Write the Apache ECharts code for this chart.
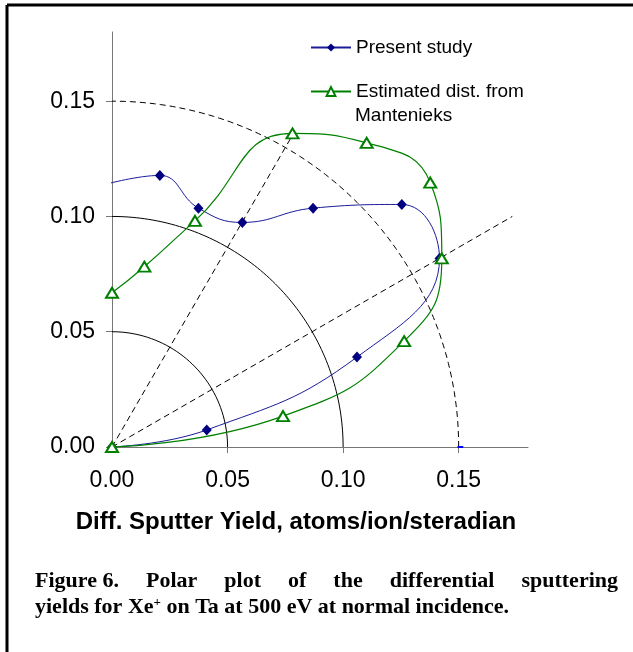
<!DOCTYPE html>
<html><head><meta charset="utf-8">
<script src="https://cdn.jsdelivr.net/npm/echarts@6/dist/echarts.min.js"></script>
<style>html,body{margin:0;padding:0;background:#fff}#c{width:633px;height:652px}</style>
</head><body><div id="c"></div>
<script>
// ---- data (atoms/ion/steradian) ----
const presentX = [-0.0022, 0.0207, 0.0374, 0.0564, 0.0870, 0.1254, 0.1417, 0.1060, 0.0410, 0.0];
const presentY = [0.1141, 0.1178, 0.1036, 0.0974, 0.1036, 0.1052, 0.0818, 0.0390, 0.0074, 0.0];
const mantX = [0.0, 0.0140, 0.0359, 0.0781, 0.1102, 0.1377, 0.1427, 0.1264, 0.0740, 0.0];
const mantY = [0.0669, 0.0782, 0.0981, 0.1360, 0.1319, 0.1147, 0.0818, 0.0459, 0.0134, 0.0];
const strayX = [0.1495, 0.1520];
const strayY = [0.0, 0.0];
// guide geometry
const solidArcRadii = [0.05, 0.10];
const dashedArcRadii = [0.15];
const rayAnglesDeg = [30, 60];
const rayLengths = [0.20, 0.157];
// axis ticks
const tickValues = [0, 0.05, 0.10, 0.15];
const axisMax = 0.18;
const seriesNames = ['Present study', 'Estimated dist. from Mantenieks'];

const zip = (xs, ys) => xs.map((x, i) => [x, ys[i]]);
function arcData(r) {
  const pts = [];
  for (let a = 0; a <= 90; a += 1) { const t = a * Math.PI / 180; pts.push([r * Math.cos(t), r * Math.sin(t)]); }
  return pts;
}
function rayData(deg, len) {
  const t = deg * Math.PI / 180;
  return [[0, 0], [len * Math.cos(t), len * Math.sin(t)]];
}

const guideSeries = [];
solidArcRadii.forEach(r => guideSeries.push({ type: 'line', data: arcData(r), symbol: 'none', silent: true, z: 1,
  lineStyle: { color: '#000', width: 1 } }));
dashedArcRadii.forEach(r => guideSeries.push({ type: 'line', data: arcData(r), symbol: 'none', silent: true, z: 1,
  lineStyle: { color: '#000', width: 1, type: [6, 4] } }));
rayAnglesDeg.forEach((d, i) => guideSeries.push({ type: 'line', data: rayData(d, rayLengths[i]), symbol: 'none', silent: true, z: 1,
  lineStyle: { color: '#000', width: 1, type: [6, 4] } }));

const presentData = zip(presentX, presentY).map((p, i) => i === 0 ? { value: p, symbol: 'none' } : p);

const FONT = '"Liberation Sans", Arial, sans-serif';
const SERIF = '"Liberation Serif", "Times New Roman", serif';

// justified caption line 1
const cap1Words = ['Figure 6.', 'Polar', 'plot', 'of', 'the', 'differential', 'sputtering'];
const capLeft = 35, capRight = 618, capFont = 'bold 22px ' + SERIF;
const mctx = document.createElement('canvas').getContext('2d');
mctx.font = capFont;
const wW = cap1Words.map(w => mctx.measureText(w).width);
const gap = (capRight - capLeft - wW.reduce((a, b) => a + b, 0)) / (cap1Words.length - 1);
const capGraphics = [];
let cx = capLeft;
cap1Words.forEach((w, i) => {
  capGraphics.push({ type: 'text', left: cx, top: 570, style: { text: w, font: capFont, fill: '#000' } });
  cx += wW[i] + gap;
});
capGraphics.push({ type: 'text', left: capLeft, top: 596, style: {
  text: 'yields for Xe{sup|+} on Ta at 500 eV at normal incidence.', font: capFont, fill: '#000',
  rich: { sup: { fontFamily: SERIF, fontWeight: 'bold', fontSize: 13, verticalAlign: 'top', padding: [0, 0, 10, 0] } } } });

const chart = echarts.init(document.getElementById('c'), null, { renderer: 'canvas' });
chart.setOption({
  animation: false,
  backgroundColor: '#fff',
  grid: { left: 112, top: 32, width: 416, height: 415, containLabel: false },
  xAxis: {
    type: 'value', min: 0, max: axisMax, interval: 0.05,
    axisLine: { onZero: false, lineStyle: { color: '#777', width: 1 } },
    axisTick: { length: 6, customValues: tickValues, lineStyle: { color: '#777', width: 1 } },
    axisLabel: { customValues: tickValues, formatter: v => v.toFixed(2), fontSize: 23, color: '#000', fontFamily: FONT, margin: 22 },
    splitLine: { show: false }
  },
  yAxis: {
    type: 'value', min: 0, max: axisMax, interval: 0.05,
    axisLine: { onZero: false, lineStyle: { color: '#777', width: 1 } },
    axisTick: { length: 6, customValues: tickValues, lineStyle: { color: '#777', width: 1 } },
    axisLabel: { customValues: tickValues, formatter: v => v.toFixed(2), fontSize: 23, color: '#000', fontFamily: FONT, margin: 17 },
    splitLine: { show: false }
  },
  legend: [
    { data: [seriesNames[0]], left: 310, top: 38, padding: 0, itemWidth: 40, itemHeight: 10, itemGap: 5, selectedMode: false,
      textStyle: { fontSize: 19, fontFamily: FONT, color: '#000' } },
    { data: [seriesNames[1]], left: 310, top: 82, padding: 0, itemWidth: 40, itemHeight: 11, itemGap: 5, selectedMode: false,
      formatter: () => 'Estimated dist. from',
      textStyle: { fontSize: 19, fontFamily: FONT, color: '#000' } }
  ],
  series: guideSeries.concat([
    { name: seriesNames[0], type: 'line', data: presentData, smooth: 0.45, clip: false, z: 3,
      symbol: 'diamond', symbolSize: [10, 11], itemStyle: { color: '#000080' },
      lineStyle: { color: '#1c1c9a', width: 1 } },
    { type: 'line', data: zip(strayX, strayY), symbol: 'none', silent: true, z: 3,
      lineStyle: { color: '#0000ff', width: 2 } },
    { name: seriesNames[1], type: 'line', data: zip(mantX, mantY), smooth: 0.5, clip: false, z: 4,
      symbol: 'emptyTriangle', symbolSize: [12, 10], itemStyle: { color: '#008000', borderWidth: 1.2 },
      lineStyle: { color: '#008000', width: 1.2 } }
  ]),
  graphic: [
    { type: 'line', shape: { x1: 7, y1: 5, x2: 633, y2: 5 }, style: { stroke: '#000', lineWidth: 3 } },
    { type: 'line', shape: { x1: 7, y1: 5, x2: 7, y2: 652 }, style: { stroke: '#000', lineWidth: 3 } },
    { type: 'text', left: 355, top: 106, style: { text: 'Mantenieks', font: '19px ' + FONT, fill: '#000' } },
    { type: 'text', x: 296, y: 522, style: { text: 'Diff. Sputter Yield, atoms/ion/steradian', font: 'bold 24px ' + FONT,
      fill: '#000', textAlign: 'center', textVerticalAlign: 'middle' } }
  ].concat(capGraphics)
});
</script></body></html>
